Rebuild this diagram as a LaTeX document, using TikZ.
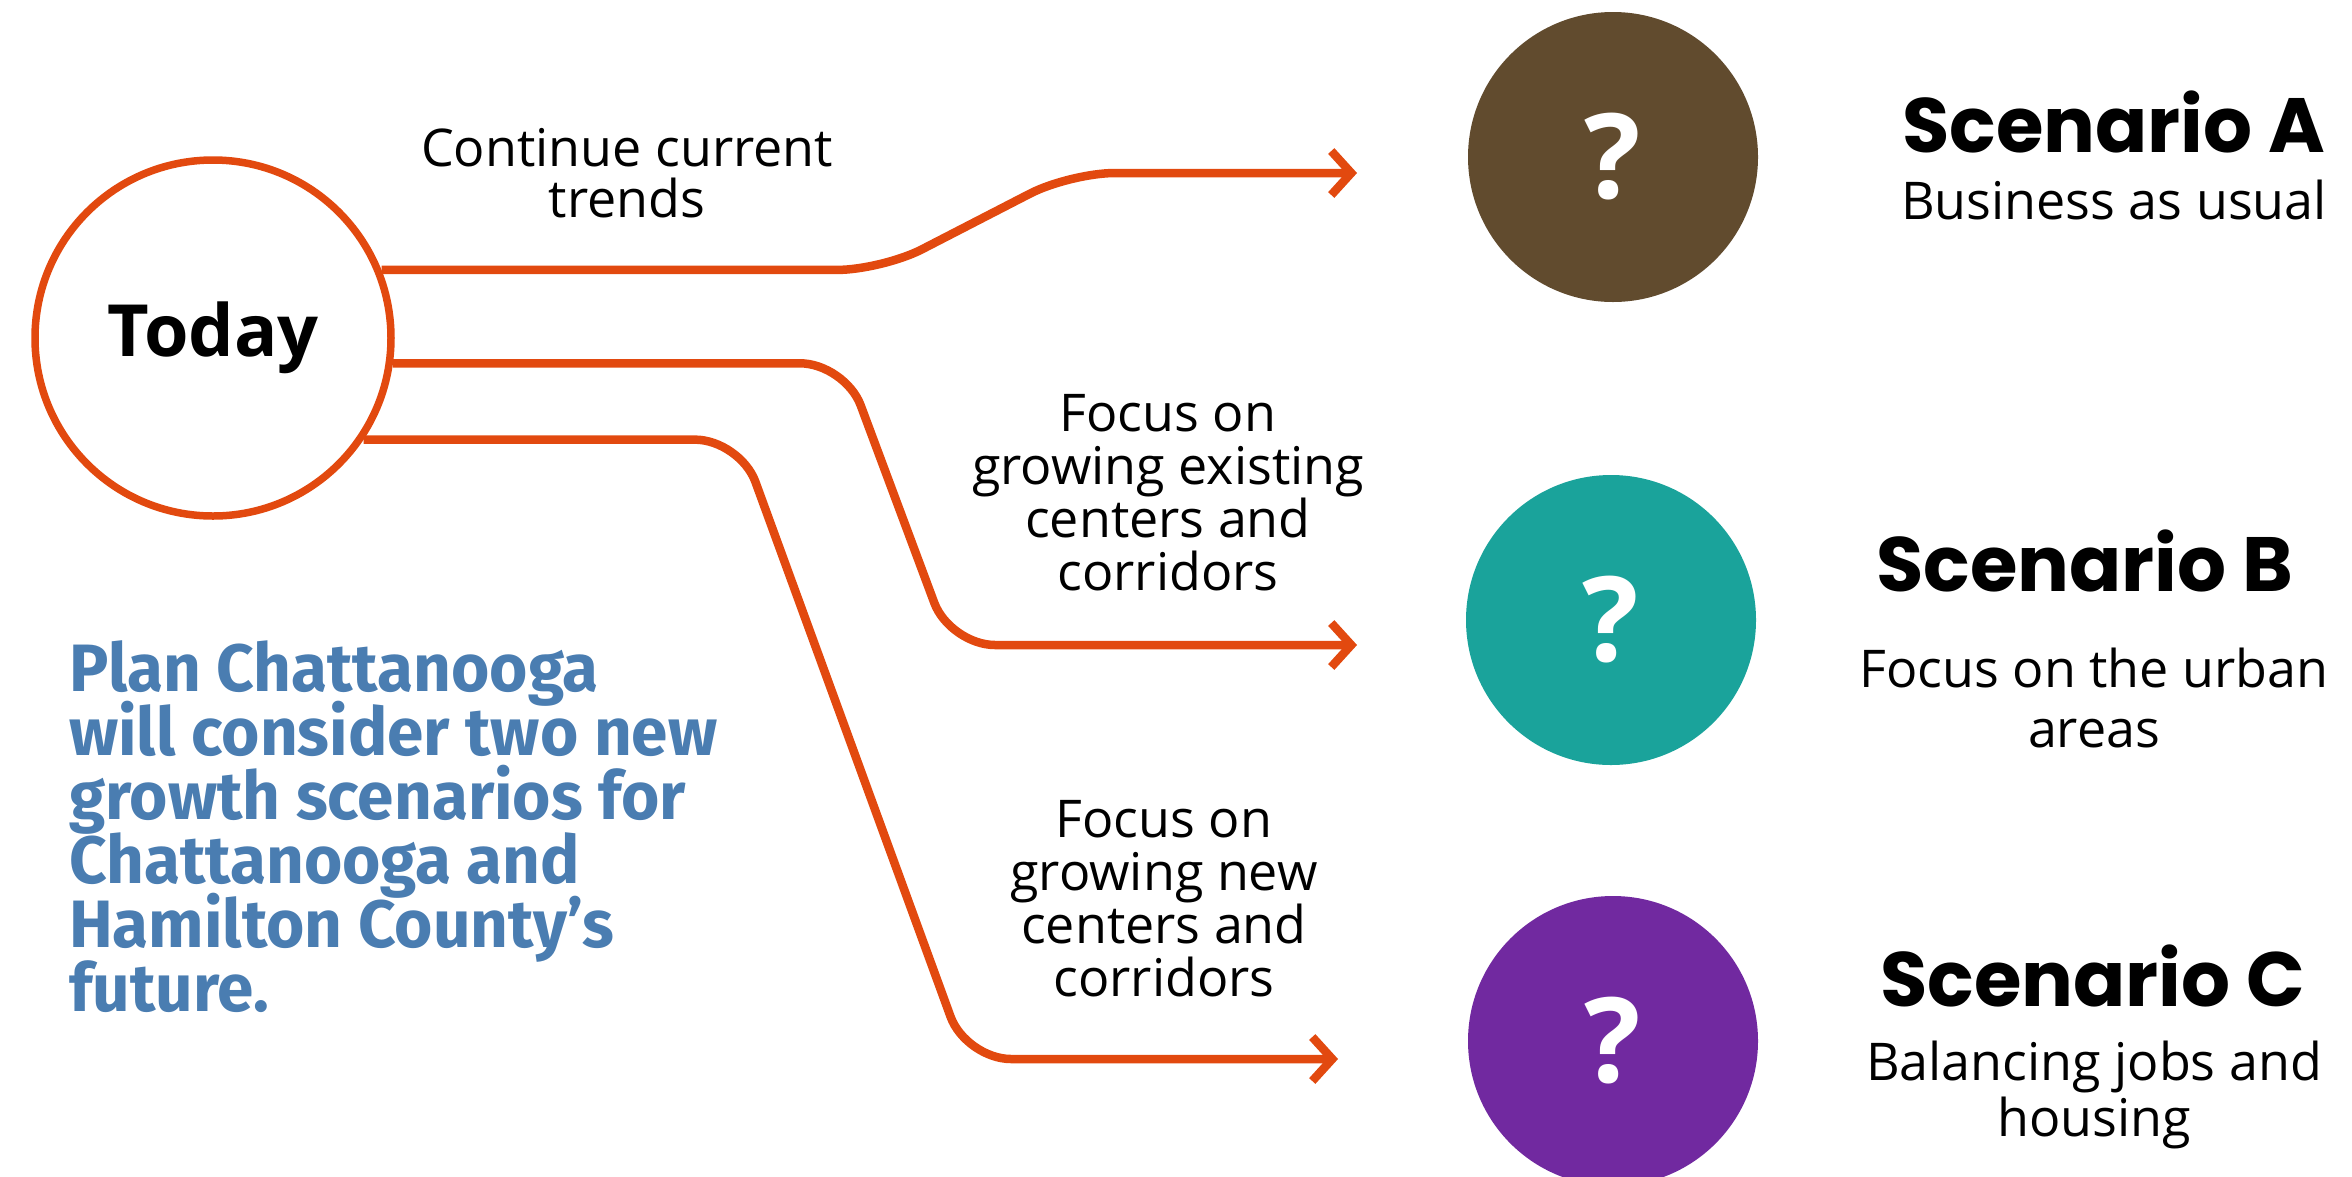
\documentclass[tikz,border=0pt]{standalone}
\usepackage{fontspec}
\setmainfont{Open Sans}
\newfontfamily\headfont{Poppins}
\newfontfamily\bluefont[FakeStretch=0.98]{Fira Sans}
\usetikzlibrary{arrows.meta}
\definecolor{orng}{RGB}{226,73,15}
\definecolor{brwn}{RGB}{97,75,46}
\definecolor{teal2}{RGB}{26,163,155}
\definecolor{purp}{RGB}{113,41,160}
\definecolor{blu}{RGB}{74,125,177}
\lineskiplimit=-200pt
\begin{document}
\begin{tikzpicture}[x=1pt,y=-1pt,
  conn/.style={draw=orng,line width=8.5pt,rounded corners=45pt,-{Straight Barb[length=20pt,width=44pt]}},
  scen/.style={circle,minimum size=290pt,inner sep=0pt,text=white,font={\bfseries\fontsize{118}{118}\selectfont}},
  body/.style={align=center,inner sep=0pt,font={\fontsize{52}{53}\selectfont}},
  head/.style={inner sep=0pt,font={\headfont\bfseries\fontsize{77}{80}\selectfont}}]
\useasboundingbox (0,0) rectangle (2352,1176);
\node[circle,draw=orng,line width=7.5pt,minimum size=356pt,inner sep=0pt,font={\bfseries\fontsize{72}{72}\selectfont}] (today) at (213,338) {Today};
\node[scen,fill=brwn] (a) at (1613,157) {?};
\node[scen,fill=teal2] (b) at (1611,620) {?};
\node[scen,fill=purp] (c) at (1613,1041) {?};
\coordinate (aend) at (1357,173);
\coordinate (bend) at (1357,645);
\coordinate (cend) at (1338,1059);
\path (today.22.8) coordinate (s1);
\path (today.-8.7) coordinate (s2);
\path (today.-34.2) coordinate (s3);
\draw[conn] (s1) -- (s1 -| 882,0) -- (1070,173) -- (aend);
\draw[conn] (s2) -- (s2 -| 845,0) -- (950,645) -- (bend);
\draw[conn] (s3) -- (s3 -| 740,0) -- (966,1059) -- (cend);
\node[body,font={\fontsize{52}{51}\selectfont}] (l1) at (627,173) {Continue current\\trends};
\node[body] (l2) at (1168,493) {Focus on\\growing existing\\centers and\\corridors};
\node[body] (l3) at (1164,899) {Focus on\\growing new\\centers and\\corridors};
\node[head] (ha) at (2114,122) {Scenario A};
\node[body] (da) at (2114,200) {Business as usual};
\node[head] (hb) at (2085,561) {Scenario B};
\node[body,font={\fontsize{52}{60}\selectfont}] (db) at (2094,698) {Focus on the urban\\areas};
\node[head] (hc) at (2093,976) {Scenario C};
\node[body,font={\fontsize{52}{56}\selectfont}] (dc) at (2094,1095) {Balancing jobs and\\housing};
\node[anchor=north west,align=left,inner sep=0pt,text=blu,font={\bluefont\bfseries\fontsize{67}{64}\selectfont}] (plan) at (69,640)
 {Plan Chattanooga\\will consider two new\\growth scenarios for\\Chattanooga and\\Hamilton County’s\\future.};
\end{tikzpicture}
\end{document}
